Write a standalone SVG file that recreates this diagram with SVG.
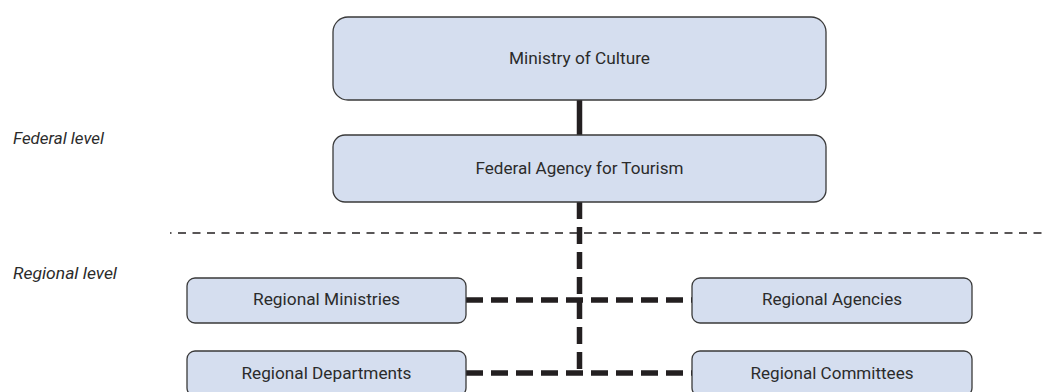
<svg xmlns="http://www.w3.org/2000/svg" width="1043" height="392" viewBox="0 0 1043 392">
  <style>
    .box { fill: #d5deef; stroke: #3a3a3a; stroke-width: 1.3; }
    .lbl { font-family: "Liberation Sans Narrow", "Roboto", "Liberation Sans", sans-serif; font-size: 16px; fill: #2b2b2b; text-anchor: middle; }
    .lvl { font-family: "Liberation Sans Narrow", "Roboto", "Liberation Sans", sans-serif; font-size: 16px; font-style: italic; fill: #2b2b2b; }
    .solid { stroke: #231f20; stroke-width: 5.5; fill: none; }
    .thick { stroke: #231f20; stroke-width: 5.5; fill: none; stroke-dasharray: 17 8; }
    .thin { stroke: #231f20; stroke-width: 1.5; fill: none; stroke-dasharray: 8 6.5; }
  </style>
  <rect width="1043" height="392" fill="#ffffff"/>
  <g id="levels">
    <text class="lvl" x="13" y="144" textLength="91" lengthAdjust="spacingAndGlyphs">Federal level</text>
    <text class="lvl" x="13" y="279" textLength="104" lengthAdjust="spacingAndGlyphs">Regional level</text>
  </g>
  <g id="connectors">
    <line class="thin" x1="170" y1="233" x2="1043" y2="233" stroke-dashoffset="6.5"/>
    <line class="solid" x1="579.5" y1="100" x2="579.5" y2="135"/>
    <line class="thick" x1="579.5" y1="202" x2="579.5" y2="375"/>
    <line class="thick" x1="466" y1="300" x2="692" y2="300"/>
    <line class="thick" x1="466" y1="373" x2="692" y2="373"/>
  </g>
  <g id="ministry">
    <rect class="box" x="333" y="17" width="493" height="83" rx="15"/>
    <text class="lbl" x="579.5" y="64" textLength="141" lengthAdjust="spacingAndGlyphs">Ministry of Culture</text>
  </g>
  <g id="federal-agency">
    <rect class="box" x="333" y="135" width="493" height="67" rx="12"/>
    <text class="lbl" x="579.5" y="174" textLength="208" lengthAdjust="spacingAndGlyphs">Federal Agency for Tourism</text>
  </g>
  <g id="regional-ministries">
    <rect class="box" x="187" y="278" width="279" height="45" rx="8"/>
    <text class="lbl" x="326.5" y="305" textLength="147" lengthAdjust="spacingAndGlyphs">Regional Ministries</text>
  </g>
  <g id="regional-agencies">
    <rect class="box" x="692" y="278" width="280" height="45" rx="8"/>
    <text class="lbl" x="832" y="305" textLength="140" lengthAdjust="spacingAndGlyphs">Regional Agencies</text>
  </g>
  <g id="regional-departments">
    <rect class="box" x="187" y="351" width="279" height="45" rx="8"/>
    <text class="lbl" x="326.5" y="379" textLength="170" lengthAdjust="spacingAndGlyphs">Regional Departments</text>
  </g>
  <g id="regional-committees">
    <rect class="box" x="692" y="351" width="280" height="45" rx="8"/>
    <text class="lbl" x="832" y="379" textLength="163" lengthAdjust="spacingAndGlyphs">Regional Committees</text>
  </g>
</svg>
